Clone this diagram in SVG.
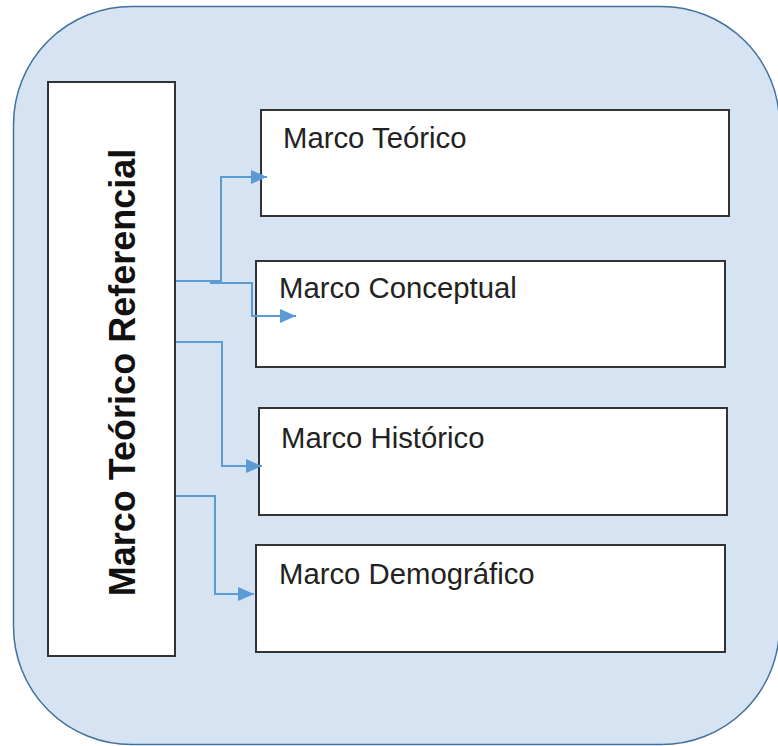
<svg xmlns="http://www.w3.org/2000/svg" width="778" height="746" viewBox="0 0 778 746">
<style>
.box{fill:#ffffff;stroke:#333333;stroke-width:2}
.lbl{font-family:"Liberation Sans",Arial,sans-serif;font-size:29.3px;fill:#222222}
.conn{fill:none;stroke:#5b9bd5;stroke-width:2}
</style>
<defs>
<marker id="ah" markerUnits="userSpaceOnUse" markerWidth="17" markerHeight="14" refX="16" refY="7" orient="auto">
<path d="M0,0 L16,7 L0,14 z" fill="#5b9bd5"/>
</marker>
</defs>
<g id="background">
<rect x="13.5" y="6.5" width="766" height="738" rx="118" ry="118" fill="#d5e3f3" stroke="#41719c" stroke-width="1.5"/>
</g>
<g id="node-main">
<rect class="box" x="48" y="82" width="127" height="574"/>
<text transform="translate(135,372.5) rotate(-90)" text-anchor="middle" font-family="'Liberation Sans',Arial,sans-serif" font-weight="bold" font-size="36" fill="#111111">Marco Teórico Referencial</text>
</g>
<g id="node-teorico">
<rect class="box" x="261" y="110" width="468" height="106"/>
<text class="lbl" x="283" y="148">Marco Teórico</text>
</g>
<g id="node-conceptual">
<rect class="box" x="256" y="261" width="469" height="106"/>
<text class="lbl" x="279" y="298">Marco Conceptual</text>
</g>
<g id="node-historico">
<rect class="box" x="259" y="408" width="468" height="107"/>
<text class="lbl" x="281" y="448">Marco Histórico</text>
</g>
<g id="node-demografico">
<rect class="box" x="256" y="545" width="469" height="107"/>
<text class="lbl" x="279" y="584">Marco Demográfico</text>
</g>
<g id="connectors">
<path class="conn" d="M176,281 H221 V177 H267" marker-end="url(#ah)"/>
<path class="conn" d="M210,283 H252 V316 H296" marker-end="url(#ah)"/>
<path class="conn" d="M176,342 H222 V466 H262" marker-end="url(#ah)"/>
<path class="conn" d="M176,496 H215 V594 H254" marker-end="url(#ah)"/>
</g>
</svg>
